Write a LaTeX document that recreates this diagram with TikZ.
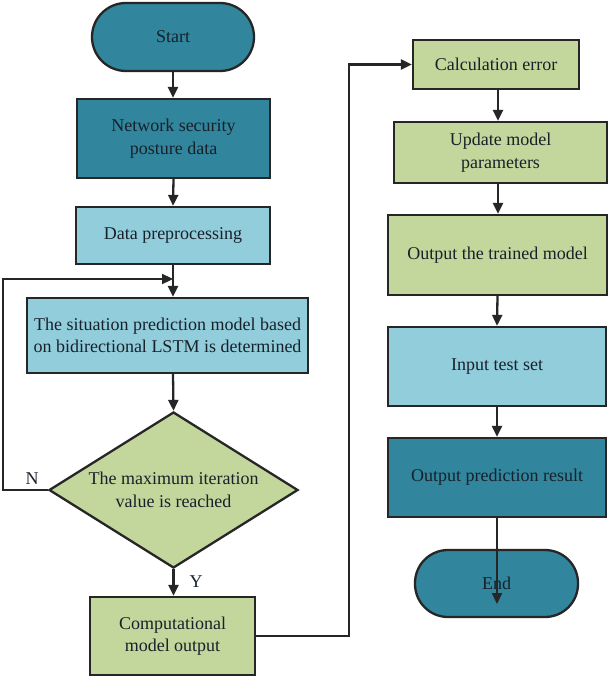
\documentclass[tikz,border=0pt]{standalone}
\usepackage{fontspec}
\setmainfont{Liberation Serif}
\usetikzlibrary{arrows.meta,shapes.geometric}
\definecolor{tealdark}{HTML}{31859C}
\definecolor{bluelight}{HTML}{92CDDC}
\definecolor{greenlight}{HTML}{C3D69B}
\definecolor{txt}{HTML}{18212A}
\begin{document}
\begin{tikzpicture}[x=1pt,y=-1pt,
  every node/.style={font=\fontsize{18}{22.5}\selectfont, text=txt, align=center},
  box/.style={draw=black!85, line width=2.3pt, rectangle, inner sep=0pt},
  arr/.style={draw=black!85, line width=2.3pt, -{Triangle[length=11pt,width=10pt]}},
  ln/.style={draw=black!85, line width=2.3pt}]
\path[use as bounding box, fill=white] (0,0) rectangle (608,679);
% left column
\node[box, fill=tealdark, minimum width=162pt, minimum height=68pt, rounded corners=34pt] (start) at (173,37) {Start};
\node[box, fill=tealdark, minimum width=193pt, minimum height=79pt] (net) at (173.5,138.5) {Network security\\posture data};
\node[box, fill=bluelight, minimum width=194pt, minimum height=57pt] (dp) at (173,235.5) {Data preprocessing};
\node[box, fill=bluelight, minimum width=281pt, minimum height=75pt] (lstm) at (167.5,335.5) {The situation prediction model based\\on bidirectional LSTM is determined};
\node[draw=black!85, line width=2.3pt, diamond, fill=greenlight, inner sep=0pt, aspect=1.6, minimum width=249pt, minimum height=156pt] (dia) at (173.5,490) {};
\node at (173.5,490) {The maximum iteration\\value is reached};
\node[box, fill=greenlight, minimum width=165pt, minimum height=78pt] (comp) at (172.5,636) {Computational\\model output};
% right column
\node[box, fill=greenlight, minimum width=166pt, minimum height=49pt] (calc) at (496,64.5) {Calculation error};
\node[box, fill=greenlight, minimum width=213pt, minimum height=61pt] (upd) at (500.5,152.5) {Update model\\parameters};
\node[box, fill=greenlight, minimum width=219pt, minimum height=80pt] (otm) at (497.5,255) {Output the trained model};
\node[box, fill=bluelight, minimum width=218pt, minimum height=79pt] (its) at (497,366.5) {Input test set};
\node[box, fill=tealdark, minimum width=218pt, minimum height=79pt] (opr) at (497,477.5) {Output prediction result};
\node[box, fill=tealdark, minimum width=163pt, minimum height=67pt, rounded corners=33pt] (end) at (496.5,583.5) {End};
% coordinates
\coordinate (j) at (173,279);
\coordinate (nl) at (3,490);
\coordinate (c1) at (349,636);
\coordinate (c2) at (349,64.5);
\coordinate (e) at (497,604);
% connectors
\draw[arr] (start.south) -- (net.north -| start.south);
\draw[arr] (net.south) -- (dp.north);
\draw[ln] (dp.south) -- (j);
\draw[arr] (j) -- (j |- lstm.north);
\draw[arr] (lstm.south -| j) -- (dia.north);
\draw[arr] (dia.west) -- (nl) |- (j);
\node at (32,479) {N};
\draw[arr] (dia.south) -- (comp.north -| dia.south);
\node at (196,582) {Y};
\draw[arr] (comp.east) -- (c1) -- (c2) -- (calc.west);
\draw[arr] (calc.south -| 498,0) -- (498,0 |- upd.north);
\draw[arr] (498,0 |- upd.south) -- (498,0 |- otm.north);
\draw[arr] (otm.south) -- (its.north);
\draw[arr] (its.south) -- (opr.north);
\draw[arr] (opr.south) -- (e);
\end{tikzpicture}
\end{document}
